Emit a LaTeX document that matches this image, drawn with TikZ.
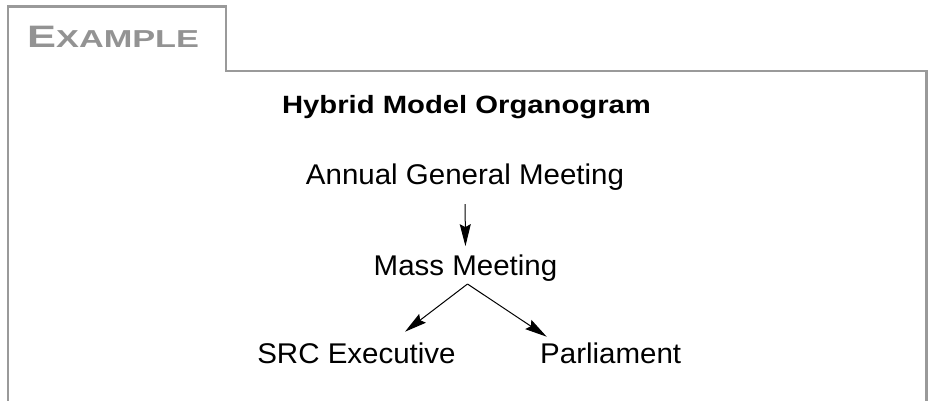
\documentclass[tikz,border=0pt]{standalone}
\usepackage{fontspec}
\setmainfont{Liberation Sans}
\usetikzlibrary{arrows.meta,calc}

\definecolor{framegray}{HTML}{9A9A9A}
\definecolor{taggray}{HTML}{939393}

\tikzset{
  frameline/.style={draw=framegray, line width=2.5pt, line join=miter},
  label/.style={inner sep=0pt, anchor=base, font=\fontsize{28.5}{29}\selectfont},
  link/.style={line width=1pt, -{Stealth[length=22pt,width=11pt,inset=3pt]}},
}

\begin{document}
\begin{tikzpicture}[x=1pt,y=-1pt]
  \useasboundingbox (0,0) rectangle (929,400);
  \fill[white] (0,0) rectangle (929,400);

  % tabbed frame
  \draw[frameline] (8,402) -- (8,6.5) -- (226,6.5) -- (226,71) -- (926.5,71) -- (926.5,402);

  % tab caption in small capitals
  \node[inner sep=0pt, anchor=base west, text=taggray] (tag) at (27,47.3)
    {\scalebox{1.4}[1]{\bfseries\fontsize{31}{31}\selectfont E\fontsize{24.5}{25}\selectfont XAMPLE}};

  % heading
  \node[label, font=\bfseries\fontsize{25}{25}\selectfont] (title) at (466.5,113)
    {\scalebox{1.17}[1]{Hybrid Model Organogram}};

  % organogram entries
  \node[label] (agm)  at (465,184)   {\scalebox{1.035}[1]{Annual General Meeting}};
  \node[label] (mass) at (465.5,275) {\scalebox{1.035}[1]{Mass Meeting}};
  \node[label] (src)  at (356.5,363) {\scalebox{1.035}[1]{SRC Executive}};
  \node[label, anchor=base west] (parl) at (540,363) {\scalebox{1.035}[1]{Parliament}};

  % connector end points
  \coordinate (split) at (467.5,284);
  \coordinate (srcin) at (405,331.7);
  \coordinate (parlin) at (546.7,336.7);

  % connectors
  \draw[link, shorten <=14pt, shorten >=8pt] (agm.south) -- (mass.north);
  \draw[link] (split) -- (srcin);
  \draw[link] (split) -- (parlin);
\end{tikzpicture}
\end{document}
